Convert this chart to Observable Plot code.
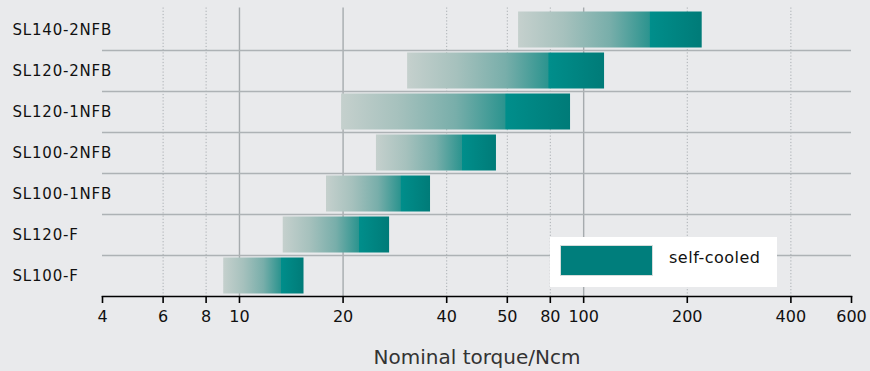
<!DOCTYPE html>
<html>
<head>
<meta charset="utf-8">
<script src="https://cdn.jsdelivr.net/npm/d3@7"></script>
<script src="https://cdn.jsdelivr.net/npm/@observablehq/plot@0.6"></script>
<style>
  html, body { margin: 0; padding: 0; background: #e9eaec; }
  #wrap { position: relative; width: 870px; height: 371px; }
  #wrap svg { display: block; }
  #wrap svg [aria-label="y-axis tick label"] text { letter-spacing: 0.8px; }
  #legend { position: absolute; left: 550px; top: 237px; width: 227px; height: 50px; background: #fff;
            font-family: "DejaVu Sans", sans-serif; font-size: 16px; color: #111; letter-spacing: 0.5px; }
  #legend .sw { position: absolute; left: 10px; top: 8px; width: 91px; height: 29px; background: #007e7c;
                border: 1.5px solid #d5dcdb; }
  #legend .lb { position: absolute; left: 119px; top: 10px; line-height: 22px; }
</style>
</head>
<body>
<div id="wrap"></div>
<script>
const models = ["SL140-2NFB", "SL120-2NFB", "SL120-1NFB", "SL100-2NFB", "SL100-1NFB", "SL120-F", "SL100-F"];
const torqueMin = [64.7, 30.8, 19.8, 25.0, 17.9, 13.4, 9.0];
const torqueMax = [221, 115, 91.6, 55.8, 35.9, 27.3, 15.4];
const tickValues = [4, 6, 8, 10, 20, 40, 60, 80, 100, 200, 400, 600];
const tickLabels = ["4", "6", "8", "10", "20", "40", "50", "80", "100", "200", "400", "600"];
const majorGrid = [10, 20, 100];
const minorGrid = [6, 8, 40, 60, 80, 200, 400];
const legendLabel = "self-cooled";
const axisTitle = "Nominal torque/Ncm";

const data = models.map((m, i) => ({model: m, min: torqueMin[i], max: torqueMax[i]}));
const ticks = tickValues.map((v, i) => ({value: v, label: tickLabels[i]}));

const gradientDefs = () => {
  const defs = d3.create("svg:defs");
  const g = defs.append("linearGradient").attr("id", "barGrad").attr("x1", "0").attr("x2", "1").attr("y1", "0").attr("y2", "0");
  [["0%", "#c5d0cd"], ["25%", "#a6c1bd"], ["50%", "#78aeaa"], ["71.5%", "#2c948f"], ["72%", "#008e8b"], ["100%", "#007b78"]]
    .forEach(([o, c]) => g.append("stop").attr("offset", o).attr("stop-color", c));
  return defs.node();
};

const bandHalf = (296 - 9) / models.length / 2;

const chart = Plot.plot({
  width: 870,
  height: 371,
  marginLeft: 102,
  marginRight: 19,
  marginTop: 9,
  marginBottom: 75,
  style: {fontFamily: "DejaVu Sans, sans-serif", fontSize: "15px", background: "#e9eaec", color: "#111"},
  x: {type: "log", domain: [4, 600]},
  y: {type: "band", domain: models, padding: 0, label: null},
  marks: [
    gradientDefs,
    Plot.ruleX(minorGrid, {stroke: "#a9aeb2", strokeWidth: 1, strokeDasharray: "1.2,2", insetTop: -1.5}),
    Plot.ruleX(majorGrid, {stroke: "#a6abae", strokeWidth: 1.4, insetTop: -1.5}),
    Plot.ruleY(models.slice(1), {y: d => d, dy: -bandHalf, x1: 4, x2: 600, stroke: "#adb2b5", strokeWidth: 1.6}),
    Plot.barX(data, {x1: "min", x2: "max", y: "model", fill: "url(#barGrad)", insetTop: 2.5, insetBottom: 2.5}),
    Plot.frame({anchor: "bottom", stroke: "#000", strokeWidth: 1.6}),
    Plot.axisX({ticks: tickValues, tickSize: 7, text: null, stroke: "#000", strokeWidth: 1.6, label: null}),
    Plot.text(ticks, {x: "value", text: "label", frameAnchor: "bottom", dy: 20, lineAnchor: "middle", fontSize: 16, fill: "#111"}),
    Plot.axisY({tickSize: 0, textAnchor: "start", dx: -81, fontSize: 15, fill: "#111", label: null}),
    Plot.text([axisTitle], {text: d => d, frameAnchor: "bottom", dy: 61, lineAnchor: "middle", fontSize: 20, fill: "#333"})
  ]
});

const wrap = document.getElementById("wrap");
wrap.appendChild(chart);
const lg = document.createElement("div");
lg.id = "legend";
lg.innerHTML = `<div class="sw"></div><div class="lb"></div>`;
lg.querySelector(".lb").textContent = legendLabel;
wrap.appendChild(lg);
</script>
</body>
</html>
